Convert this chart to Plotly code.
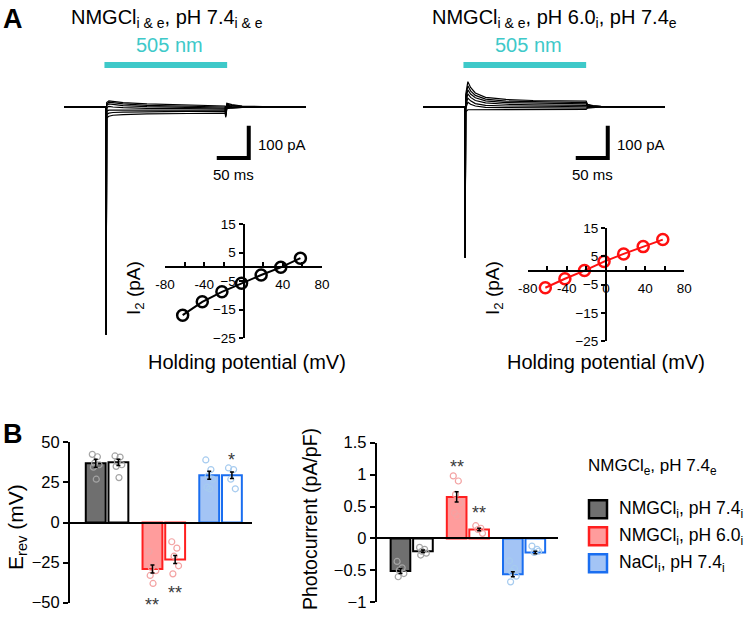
import plotly.graph_objects as go

W, H = 744, 623
FONT = "Liberation Sans, Arial, sans-serif"

# ---------------- data ----------------
# Panel A: photocurrent traces (time in ms, current in pA), one list per holding potential
hold_mV = [-62, -42, -22, -2, 18, 38, 58]

left_t = [-62, -0.3, 0, 0.8, 4, 10, 25, 60, 120, 175, 176, 177.5, 185, 200, 230, 294]
left_I = [
    [0, 0, -665, -32, -27, -24, -22, -20, -19, -18, -30, -5, -3, -1, 0, 0],
    [0, 0, -665, -22, -18, -16, -15, -14, -13, -13, -27, -3, -2, -1, 0, 0],
    [0, 0, -665, -12, -9, -8.5, -9, -9, -9.5, -9.5, -24, -1, -1, 0, 0, 0],
    [0, 0, -665, -2, 2, 0, -2, -4, -5, -6, -21, 2, 1, 0, 0, 0],
    [0, 0, -665, 5, 9, 7, 4, 1, -1, -3, -18, 5, 3, 1, 0, 0],
    [0, 0, -665, 9, 14, 12, 9, 5, 2, 0, -15, 8, 5, 2, 0.5, 0],
    [0, 0, -665, 13, 18, 16, 13, 9, 6, 3, -12, 11, 7, 3, 1, 0],
]

right_t = [-62, -0.3, 0, 0.8, 4, 8, 15, 30, 60, 100, 178, 180, 188, 200, 230, 294]
right_I = [
    [0, 0, -440, -14, -8, -8, -8, -8, -7.5, -7, -7, -3, -1, 0, 0, 0],
    [0, 0, -440, -4, 14, 8, 3, -1, -2, -3, -3, -1, 0, 0, 0, 0],
    [0, 0, -440, 4, 26, 18, 10, 5, 3, 2, 1, 0, 0, 0, 0, 0],
    [0, 0, -440, 12, 38, 28, 19, 12, 8, 6, 5, 2, 1, 0, 0, 0],
    [0, 0, -440, 20, 50, 38, 27, 18, 13, 11, 9, 4, 2, 1, 0, 0],
    [0, 0, -440, 28, 62, 47, 34, 23, 17, 15, 13, 6, 3, 1, 0, 0],
    [0, 0, -440, 36, 74, 57, 41, 28, 22, 19, 17, 8, 4, 2, 0, 0],
]

# I-V insets (I2 in pA)
iv_left = [-17.0, -12.3, -8.8, -5.8, -2.9, -0.2, 3.0]
iv_right = [-6.1, -2.9, 0.0, 3.2, 5.9, 8.5, 11.0]

# Panel B
group_pos = [0, 0.4, 1, 1.4, 2, 2.4]
erev_mean = [37, 37.5, -29, -23, 29.5, 29.5]
erev_sem = [2.5, 2.0, 2.5, 2.5, 2.5, 2.0]
erev_pts = [
    [42.5, 41, 37, 36, 34.5, 27],
    [41.5, 40.8, 38, 36, 35, 28],
    [-18, -26, -28, -30, -33, -38],
    [-12, -16, -21, -27, -32],
    [39, 33, 29, 27, 22, 21],
    [34, 33, 27, 21],
]
pc_mean = [-0.51, -0.2, 0.65, 0.14, -0.56, -0.22]
pc_sem = [0.04, 0.02, 0.08, 0.02, 0.04, 0.02]
pc_pts = [
    [-0.36, -0.46, -0.5, -0.55, -0.6],
    [-0.14, -0.17, -0.2, -0.23, -0.26],
    [0.98, 0.9, 0.69, 0.56, 0.4, 0.35],
    [0.2, 0.16, 0.14, 0.08],
    [-0.35, -0.47, -0.52, -0.59, -0.68],
    [-0.12, -0.17, -0.22, -0.2],
]
jitter = [-0.06, 0.03, -0.02, 0.06, -0.04, 0.01]

legend_labels = ["NMGCl<sub>i</sub>, pH 7.4<sub>i</sub>",
                 "NMGCl<sub>i</sub>, pH 6.0<sub>i</sub>",
                 "NaCl<sub>i</sub>, pH 7.4<sub>i</sub>"]

# ---------------- styles ----------------
fills = ["#6f6f6f", "white", "#ff9c9c", "white", "#a3c4f5", "white"]
borders = ["black", "black", "#ff1f1f", "#ff1f1f", "#1a6ef0", "#1a6ef0"]
pt_cols = ["#a5a5a5", "#a5a5a5", "#f3a3a3", "#f3a3a3", "#a6cbef", "#a6cbef"]
CYAN = "#3ec9c9"


def dx(a, b):
    return [a / W, b / W]


def dy(top, bottom):
    return [1 - bottom / H, 1 - top / H]


def zpos(dom, rng):
    return dom[0] + (0 - rng[0]) / (rng[1] - rng[0]) * (dom[1] - dom[0])


def px(x):
    return x / W


def py(y):
    return 1 - y / H


fig = go.Figure()

# traces
for ys in left_I:
    fig.add_trace(go.Scatter(x=left_t, y=ys, mode="lines", line=dict(color="black", width=1.2),
                             xaxis="x", yaxis="y", showlegend=False, hoverinfo="skip"))
for ys in right_I:
    fig.add_trace(go.Scatter(x=right_t, y=ys, mode="lines", line=dict(color="black", width=1.2),
                             xaxis="x2", yaxis="y2", showlegend=False, hoverinfo="skip"))

# IV
for xa, ya, vals, col in [("x3", "y3", iv_left, "black"), ("x4", "y4", iv_right, "#ff1010")]:
    fig.add_trace(go.Scatter(x=hold_mV, y=vals, mode="lines+markers",
                             line=dict(color=col, width=2),
                             marker=dict(symbol="circle-open", size=11, color=col, line=dict(width=2.5)),
                             xaxis=xa, yaxis=ya, showlegend=False, cliponaxis=False))

# bars
for xa, ya, mean, sem, pts in [("x5", "y5", erev_mean, erev_sem, erev_pts),
                               ("x6", "y6", pc_mean, pc_sem, pc_pts)]:
    fig.add_trace(go.Bar(x=group_pos, y=mean, width=0.35,
                         marker=dict(color=fills, line=dict(color=borders, width=2)),
                         xaxis=xa, yaxis=ya, showlegend=False))
    for i, vals in enumerate(pts):
        xs = [group_pos[i] + jitter[j % len(jitter)] for j in range(len(vals))]
        fig.add_trace(go.Scatter(x=xs, y=vals, mode="markers",
                                 marker=dict(symbol="circle-open", size=6, color=pt_cols[i],
                                             line=dict(width=1.2)),
                                 xaxis=xa, yaxis=ya, showlegend=False, cliponaxis=False))
    fig.add_trace(go.Scatter(x=group_pos, y=mean, mode="markers",
                             marker=dict(size=1, color="rgba(0,0,0,0)"),
                             error_y=dict(type="data", array=sem, color="black", thickness=1.5, width=2),
                             xaxis=xa, yaxis=ya, showlegend=False, cliponaxis=False))

# ---------------- axes ----------------
tr_xr = [-62, 294]
tr_yr = [-680, 108]
hidden = dict(visible=False, fixedrange=True, automargin=False)

iv1_x, iv1_y = dx(165, 322), dy(224, 338)
iv2_x, iv2_y = dx(527.7, 684.3), dy(228.3, 341)
iv_xr, iv_yr = [-80, 80], [-25, 15]

b1_x, b1_y = dx(70, 252), dy(442.3, 602.7)
b2_x, b2_y = dx(376.7, 558.3), dy(442.7, 602.3)
b1_xr, b1_yr = [-0.453, 2.754], [-50, 50]
b2_xr, b2_yr = [-0.423, 2.809], [-1, 1.5]

iv_ticks = list(range(-80, 81, 20))
iv_text_l = ["-80", "", "-40", "", "", "", "40", "", "80"]
iv_text_r = ["-80", "", "-40", "", "0", "", "40", "", "80"]


def iv_xaxis(dom, ydom, txt):
    return dict(domain=dom, range=iv_xr, anchor="free", position=zpos(ydom, iv_yr), automargin=False,
                showline=True, linecolor="black", linewidth=2, zeroline=False, showgrid=False,
                tickmode="array", tickvals=iv_ticks, ticktext=txt, ticks="inside", ticklen=4,
                ticklabelstandoff=5,
                tickwidth=1.5, tickcolor="black", tickfont=dict(size=13.5, color="black", family=FONT))


def iv_yaxis(dom, xdom):
    return dict(domain=dom, range=iv_yr, anchor="free", position=zpos(xdom, iv_xr), automargin=False,
                showline=True, linecolor="black", linewidth=2, zeroline=False, showgrid=False,
                tickmode="array", tickvals=[-25, -15, -5, 5, 15], ticks="outside", ticklen=4,
                tickwidth=1.5, tickcolor="black", tickfont=dict(size=13.5, color="black", family=FONT))


def bar_xaxis(dom, rng, ydom, yrng):
    return dict(domain=dom, range=rng, anchor="free", position=zpos(ydom, yrng), automargin=False,
                showline=True, linecolor="black", linewidth=2, zeroline=False, showgrid=False,
                showticklabels=False, ticks="")


def bar_yaxis(dom, rng, xname, vals, txt):
    return dict(domain=dom, range=rng, anchor=xname, showline=True, linecolor="black", linewidth=2,
                zeroline=False, showgrid=False, tickmode="array", tickvals=vals, ticktext=txt,
                automargin=False, ticks="outside", ticklen=5, tickwidth=2, tickcolor="black",
                tickfont=dict(size=16.5, color="black", family=FONT))


fig.update_layout(
    width=W, height=H, margin=dict(l=0, r=0, t=0, b=0, pad=0, autoexpand=False),
    paper_bgcolor="white", plot_bgcolor="rgba(0,0,0,0)",
    font=dict(family=FONT, color="black"),
    xaxis=dict(domain=dx(64, 306), range=tr_xr, anchor="y", **hidden),
    yaxis=dict(domain=dy(70, 340), range=tr_yr, anchor="x", **hidden),
    xaxis2=dict(domain=dx(423, 665), range=tr_xr, anchor="y2", **hidden),
    yaxis2=dict(domain=dy(70, 340), range=tr_yr, anchor="x2", **hidden),
    xaxis3=iv_xaxis(iv1_x, iv1_y, iv_text_l),
    yaxis3=iv_yaxis(iv1_y, iv1_x),
    xaxis4=iv_xaxis(iv2_x, iv2_y, iv_text_r),
    yaxis4=iv_yaxis(iv2_y, iv2_x),
    xaxis5=bar_xaxis(b1_x, b1_xr, b1_y, b1_yr),
    yaxis5=bar_yaxis(b1_y, b1_yr, "x5", [-50, -25, 0, 25, 50], ["\u221250", "\u221225", "0", "25", "50"]),
    xaxis6=bar_xaxis(b2_x, b2_xr, b2_y, b2_yr),
    yaxis6=bar_yaxis(b2_y, b2_yr, "x6", [-1, -0.5, 0, 0.5, 1, 1.5],
                     ["\u22121", "\u22120.5", "0", "0.5", "1", "1.5"]),
    barmode="overlay",
)

shapes = []
annots = []


def ann(**kw):
    d = dict(showarrow=False, xanchor="center", yanchor="middle")
    d.update(kw)
    annots.append(d)


# light bars, scale bars
for xr, yr in [("x", "y"), ("x2", "y2")]:
    shapes.append(dict(type="line", xref=xr, yref="paper", x0=-2.5, x1=178, y0=py(65), y1=py(65),
                       line=dict(color=CYAN, width=6)))
    shapes.append(dict(type="path", xref=xr, yref=yr, path="M 162.7,-148.6 L 209.8,-148.6 L 209.8,-54.6",
                       line=dict(color="black", width=4)))
    ann(xref=xr, yref="paper", x=93, y=py(45), text="505 nm", font=dict(size=20, color=CYAN))
    ann(xref=xr, yref=yr, x=221, y=-108, text="100 pA", xanchor="left", font=dict(size=15))
    ann(xref=xr, yref=yr, x=187, y=-196, text="50 ms", font=dict(size=15))

ann(xref="paper", yref="paper", x=px(166.5), y=py(19),
    text="NMGCl<sub>i &amp; e</sub>, pH 7.4<sub>i &amp; e</sub>", font=dict(size=20))
ann(xref="paper", yref="paper", x=px(554), y=py(19),
    text="NMGCl<sub>i &amp; e</sub>, pH 6.0<sub>i</sub>, pH 7.4<sub>e</sub>", font=dict(size=20))
ann(xref="paper", yref="paper", x=px(1), y=py(19), text="<b>A</b>", xanchor="left", font=dict(size=27))
ann(xref="paper", yref="paper", x=px(1), y=py(434), text="<b>B</b>", xanchor="left", font=dict(size=27))

# IV titles
for cx, cy in [(135, 288), (494, 288)]:
    ann(xref="paper", yref="paper", x=px(cx), y=py(cy), text="I<sub>2</sub> (pA)",
        textangle=-90, font=dict(size=19))
for cx in [247, 606]:
    ann(xref="paper", yref="paper", x=px(cx), y=py(362), text="Holding potential (mV)", font=dict(size=20))

# bar titles
ann(xref="paper", yref="paper", x=px(17), y=py(527), text="E<sub>rev</sub> (mV)",
    textangle=-90, font=dict(size=21))
ann(xref="paper", yref="paper", x=px(310), y=py(519), text="Photocurrent (pA/pF)",
    textangle=-90, font=dict(size=19.5))

# significance stars
for xa, ya, x, y, t in [("x5", "y5", 1.0, -48.3, "**"), ("x5", "y5", 1.4, -40.8, "**"),
                        ("x5", "y5", 2.4, 42.3, "*"), ("x6", "y6", 1.0, 1.19, "**"),
                        ("x6", "y6", 1.4, 0.48, "**")]:
    ann(xref=xa, yref=ya, x=x, y=y, text=t, yshift=-5, font=dict(size=18, color="#3a3a3a"))

# legend
ann(xref="paper", yref="paper", x=px(586), y=py(467), xanchor="left",
    text="NMGCl<sub>e</sub>, pH 7.4<sub>e</sub>", font=dict(size=17))
leg_idx = [0, 2, 4]
for k, cy in enumerate([509.3, 536.3, 563.3]):
    i = leg_idx[k]
    shapes.append(dict(type="rect", xref="paper", yref="paper", x0=px(589), x1=px(607),
                       y0=py(cy + 9), y1=py(cy - 9), fillcolor=fills[i],
                       line=dict(color=borders[i], width=2.5)))
    ann(xref="paper", yref="paper", x=px(617), y=py(cy), xanchor="left",
        text=legend_labels[k], font=dict(size=17.5))

fig.update_layout(shapes=shapes, annotations=annots)
fig.write_html("out.html", config={"displayModeBar": False},
               post_script="document.body.style.margin='0px';")
